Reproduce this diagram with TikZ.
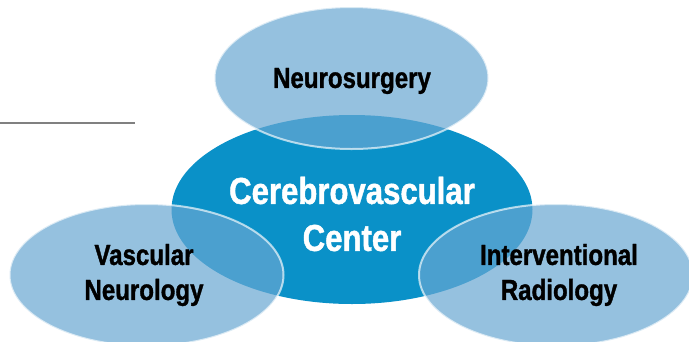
\documentclass[tikz,border=0pt]{standalone}
\usepackage{fontspec}
\usepackage{tikz}
\usetikzlibrary{shapes.geometric}
\newfontfamily\diagfont{Liberation Sans}[FakeStretch=0.83, BoldFeatures={FakeBold=1.2}]
\definecolor{centro_azul}{RGB}{10,145,200}
\definecolor{area_azul}{RGB}{104,167,210}
\definecolor{linea_gris}{RGB}{128,128,128}

\begin{document}
\begin{tikzpicture}[
    x=1pt, y=-1pt,
    every node/.style={inner sep=0pt, align=center},
    center_area/.style={ellipse, fill=centro_azul, minimum width=361pt, minimum height=189pt},
    side_area/.style={ellipse, fill=area_azul, fill opacity=0.7, draw=white, draw opacity=0.65, line width=2pt, minimum width=274pt, minimum height=142pt},
    center_text/.style={text=white, font=\diagfont\bfseries\fontsize{37.5}{47}\selectfont},
    side_text/.style={text=black, font=\diagfont\bfseries\fontsize{29}{35}\selectfont},
    rule_line/.style={draw=linea_gris, line width=1.3pt}
]
\useasboundingbox (0,0) rectangle (689,341);

% Elipses
\node[center_area] (center) at (352,209.5) {};
\node[side_area] (neuro) at (351.5,78) {};
\node[side_area] (vascular) at (146.5,275) {};
\node[side_area] (radio) at (556,275) {};

% Textos
\node[center_text] (center_label) at (352,214) {Cerebrovascular\\Center};
\node[side_text] (neuro_label) at (352,81) {Neurosurgery};
\node[side_text] (vascular_label) at (144,275) {Vascular\\Neurology};
\node[side_text] (radio_label) at (559,275) {Interventional\\Radiology};

% Linea
\coordinate (rule_start) at (0,123);
\coordinate (rule_end) at (135,123);
\draw[rule_line] (rule_start) -- (rule_end);

\end{tikzpicture}
\end{document}
